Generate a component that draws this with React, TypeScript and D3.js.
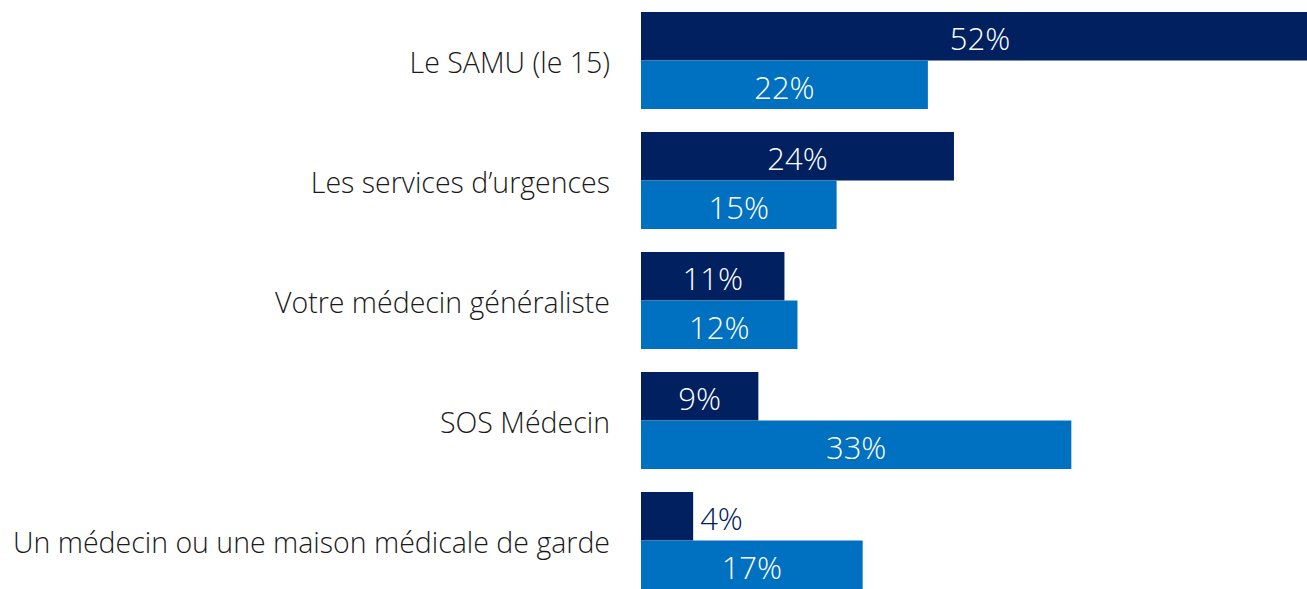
import React, { useEffect, useRef } from 'react';
import * as d3 from 'd3';

const categories = [
  'Le SAMU (le 15)',
  'Les services d\u2019urgences',
  'Votre médecin généraliste',
  'SOS Médecin',
  'Un médecin ou une maison médicale de garde',
];
const seriesA = [52, 24, 11, 9, 4];
const seriesB = [22, 15, 12, 33, 17];
const seriesKeys = ['a', 'b'];
const colors = ['#002060', '#0070C0'];

const W = 1307;
const H = 589;
const FONT = '"Open Sans", "Liberation Sans", sans-serif';

export default function App() {
  const ref = useRef<SVGSVGElement>(null);

  useEffect(() => {
    document.body.style.margin = '0';
    const svg = d3.select(ref.current);
    svg.selectAll('*').remove();

    const data = categories.map((c, i) => ({ cat: c, vals: [seriesA[i], seriesB[i]] }));

    const y0 = d3.scaleBand<string>()
      .domain(categories)
      .range([12, 589])
      .paddingInner(23 / 120)
      .paddingOuter(0);
    const y1 = d3.scaleBand<string>()
      .domain(seriesKeys)
      .range([0, y0.bandwidth()]);
    const x = d3.scaleLinear().domain([0, 100]).range([641, 641 + 1304]);

    const g = svg.selectAll('g.grp')
      .data(data)
      .enter()
      .append('g')
      .attr('transform', (d) => `translate(0, ${y0(d.cat)})`);

    // category labels
    g.append('text')
      .attr('x', 610)
      .attr('y', y0.bandwidth() / 2 + 1)
      .attr('text-anchor', 'end')
      .attr('dominant-baseline', 'central')
      .style('font-family', FONT)
      .style('font-weight', 300)
      .style('font-size', '28.5px')
      .style('fill', '#1a1a1a')
      .text((d) => d.cat);

    const bars = g.selectAll('g.bar')
      .data((d) => d.vals.map((v, j) => ({ v, key: seriesKeys[j], j })))
      .enter()
      .append('g');

    bars.append('rect')
      .attr('x', x(0))
      .attr('y', (d) => y1(d.key)!)
      .attr('width', (d) => x(d.v) - x(0))
      .attr('height', y1.bandwidth())
      .style('fill', (d) => colors[d.j]);

    bars.append('text')
      .attr('x', (d) => {
        const w = x(d.v) - x(0);
        return w < 60 ? x(d.v) + 7 : (x(0) + x(d.v)) / 2;
      })
      .attr('y', (d) => y1(d.key)! + y1.bandwidth() / 2 + 2)
      .attr('text-anchor', (d) => (x(d.v) - x(0) < 60 ? 'start' : 'middle'))
      .attr('dominant-baseline', 'central')
      .style('font-family', FONT)
      .style('font-weight', 300)
      .style('font-size', '31px')
      .style('fill', (d) => (x(d.v) - x(0) < 60 ? colors[d.j] : '#ffffff'))
      .text((d) => `${d.v}%`);
  }, []);

  return (
    <svg
      ref={ref}
      width={W}
      height={H}
      style={{ display: 'block', position: 'absolute', left: 0, top: 0, overflow: 'hidden', background: '#fff' }}
    />
  );
}
